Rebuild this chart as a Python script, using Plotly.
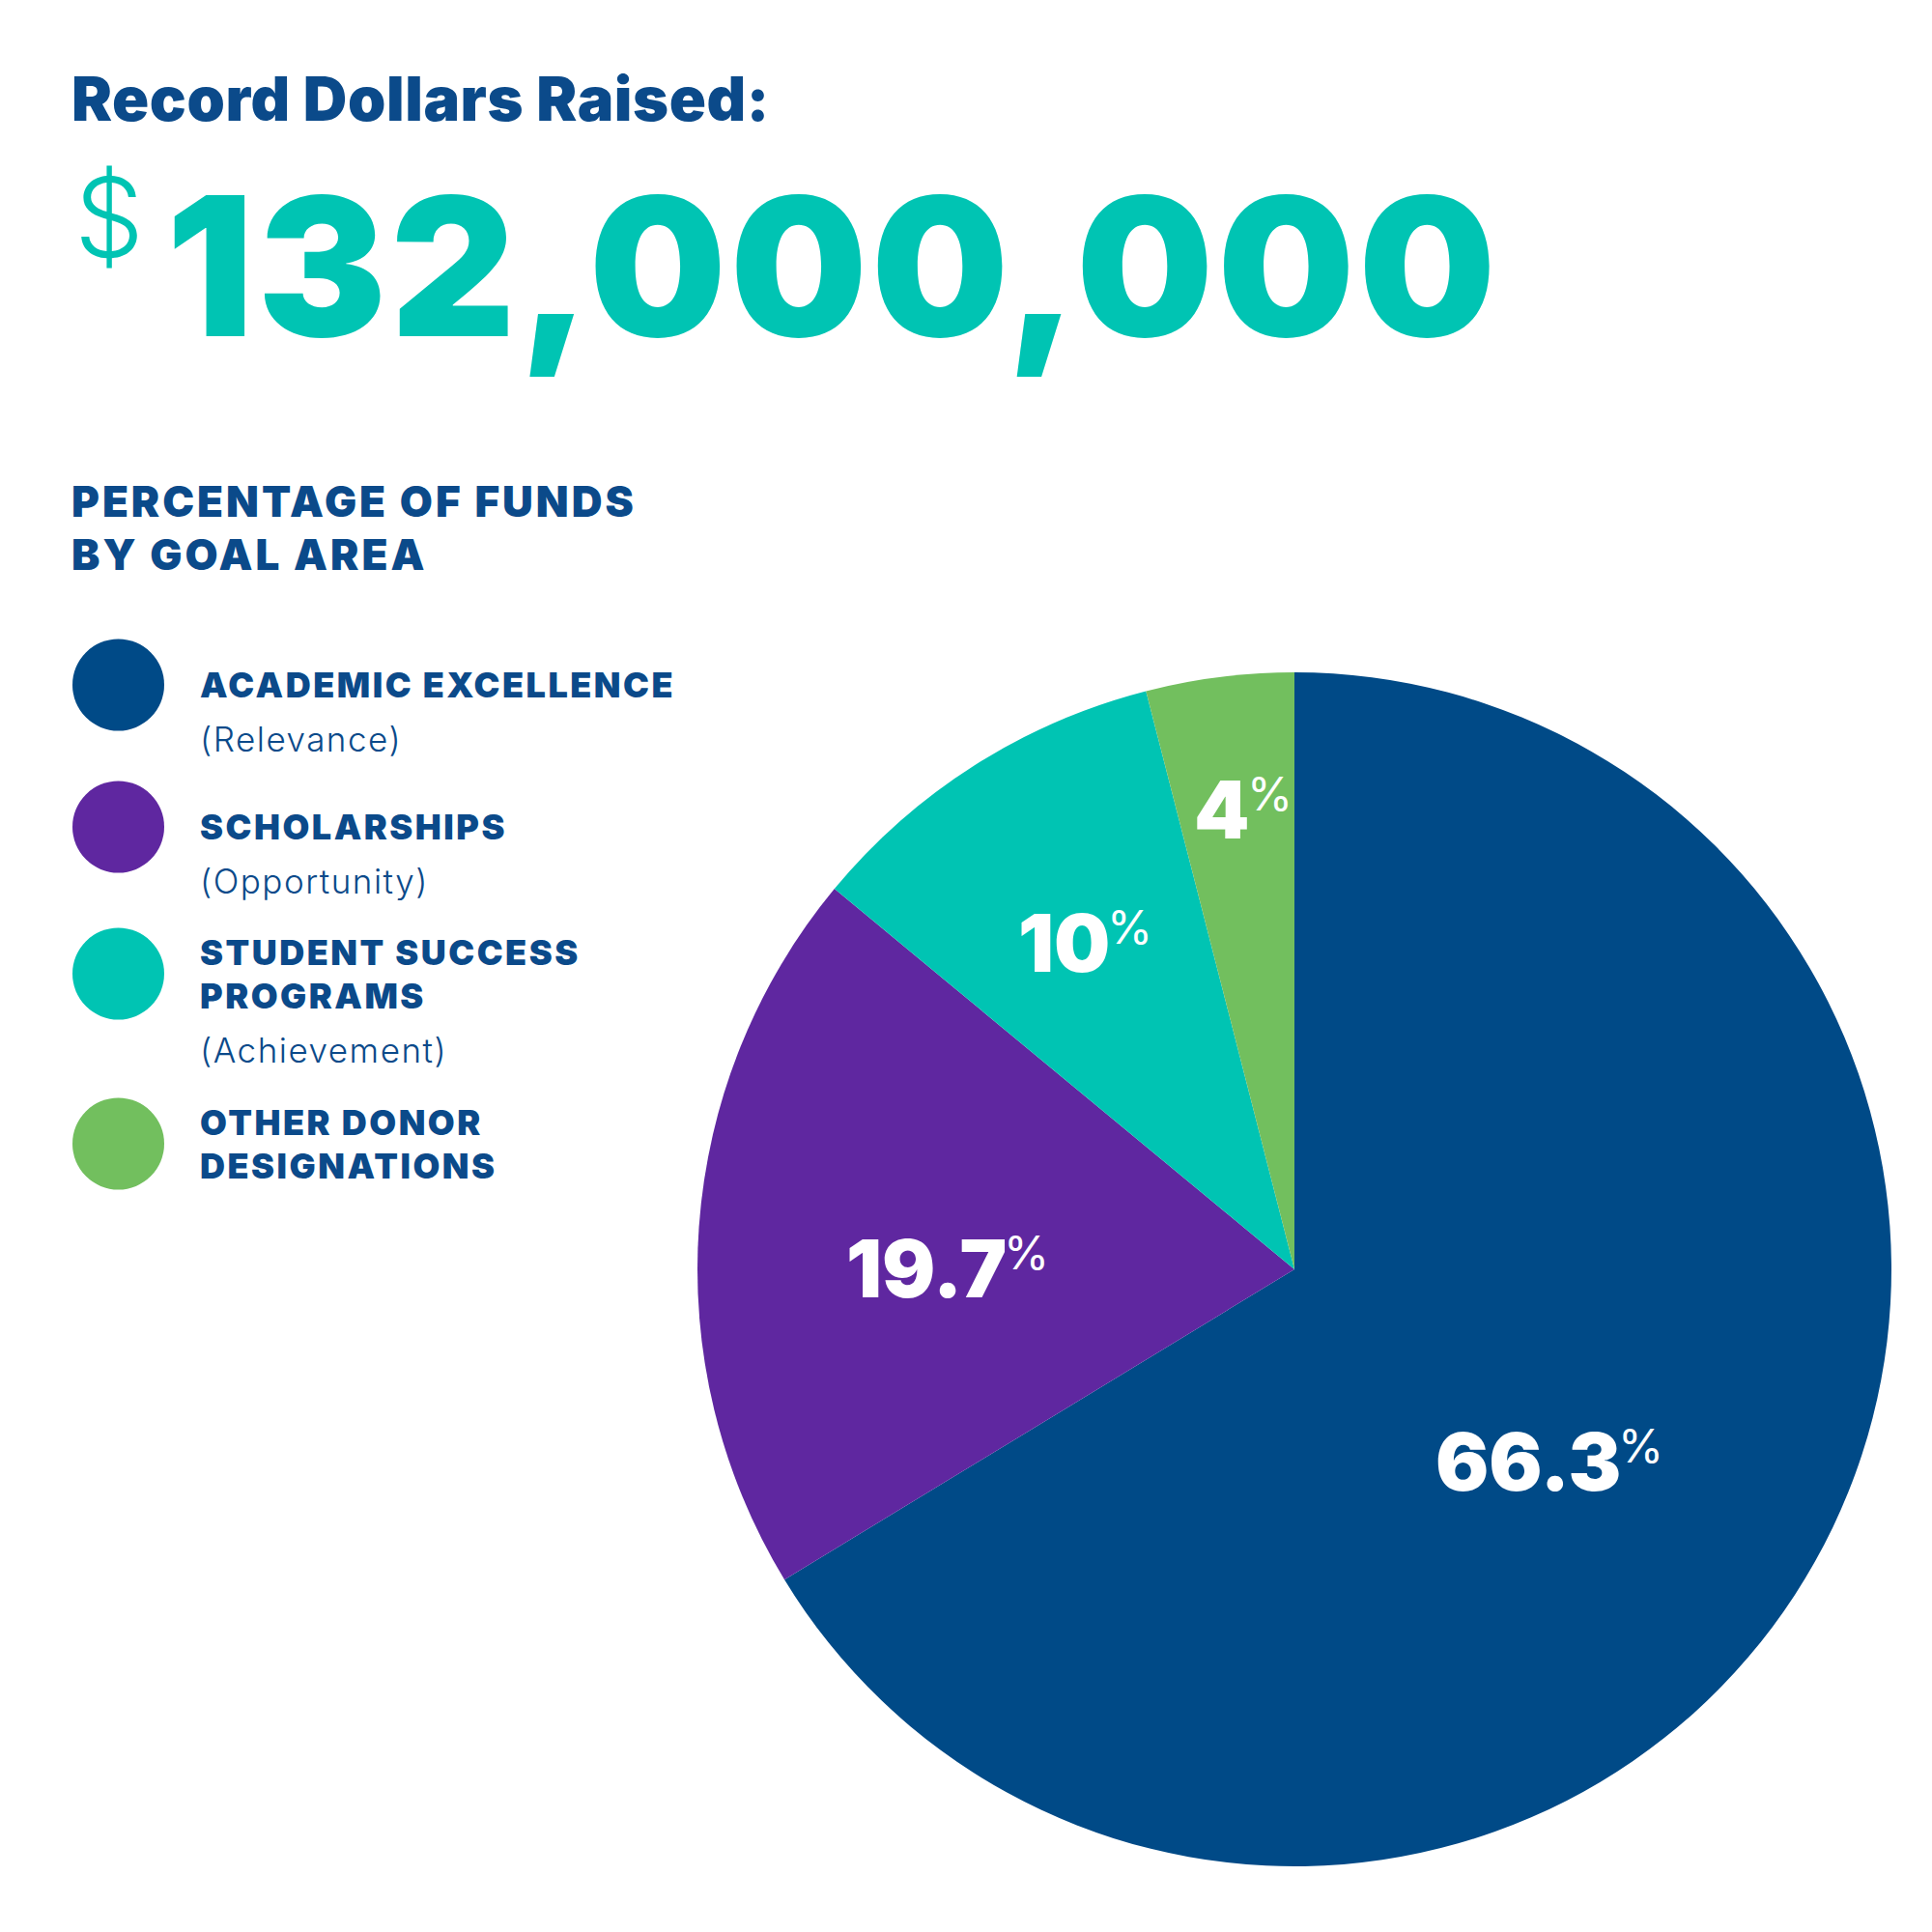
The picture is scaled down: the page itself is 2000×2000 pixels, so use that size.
import math
import plotly.graph_objects as go

# ---- data ----
categories = ["ACADEMIC EXCELLENCE", "SCHOLARSHIPS", "STUDENT SUCCESS PROGRAMS", "OTHER DONOR DESIGNATIONS"]
legend_titles = [["ACADEMIC EXCELLENCE"], ["SCHOLARSHIPS"], ["STUDENT SUCCESS", "PROGRAMS"], ["OTHER DONOR", "DESIGNATIONS"]]
legend_subtitles = ["(Relevance)", "(Opportunity)", "(Achievement)", ""]
percentages = [66.3, 19.7, 10, 4]
total_raised = "132,000,000"

# ---- style ----
colors = ["#004A87", "#5F27A0", "#00C4B3", "#72BF5E"]
navy = "#0B4A8A"
teal = "#00C4B3"
W = H = 2000
OFF = 8  # page body margin compensation
FONT = "Inter, Lato, sans-serif"

pie_cx, pie_cy, pie_r = 1340 - OFF, 1314 - OFF, 618
label_rfrac = [0.646, 0.473, 0.618, 0.768]   # radial placement of slice labels
label_dtheta = [1.2, -4.7, 3.4, 2.4]         # angular nudge from slice bisector (deg)


def spaced(text, px):
    return f"<span style='letter-spacing:{px}px'>{text}</span>"


fig = go.Figure()

fig.add_trace(go.Pie(
    labels=categories,
    values=percentages,
    textinfo="none",
    marker=dict(colors=colors, line=dict(width=0)),
    sort=False,
    direction="clockwise",
    rotation=0,
    hoverinfo="label+percent",
    showlegend=False,
    domain=dict(x=[(pie_cx - pie_r) / W, (pie_cx + pie_r) / W],
                y=[(H - pie_cy - pie_r) / H, (H - pie_cy + pie_r) / H]),
))

# legend markers drawn as a scatter trace on a hidden pixel-space axis
legend_y = [709, 856, 1008, 1184]
fig.add_trace(go.Scatter(
    x=[122.5] * len(categories), y=legend_y, mode="markers",
    marker=dict(size=95, color=colors, line=dict(width=0)),
    hoverinfo="text", hovertext=categories, showlegend=False,
))

ann = []
def add_text(x, y, text, size, color=navy, weight=900, anchor="left", xshift=0, yshift=0):
    ann.append(dict(x=x, y=y, xref="x", yref="y", text=text, showarrow=False,
                    xanchor=anchor, yanchor="middle", xshift=xshift, yshift=yshift,
                    font=dict(family=FONT, size=size, color=color, weight=weight)))

add_text(72, 102, spaced("Record Dollars Raised:", 0.6), 63)
add_text(113, 224, "$", 114, color=teal, weight=300, anchor="center")
add_text(170, 275, spaced(total_raised, 4), 200, color=teal)
add_text(72, 519, spaced("PERCENTAGE OF FUNDS", 3), 44)
add_text(72, 574, spaced("BY GOAL AREA", 3), 44)

title_gap = 45
sub_gap = 56
for i, (lines, sub) in enumerate(zip(legend_titles, legend_subtitles)):
    y0 = legend_y[i] - (len(lines) - 1) * title_gap / 2
    for j, ln in enumerate(lines):
        add_text(205, y0 + j * title_gap, spaced(ln, 2.5), 36)
    if sub:
        add_text(205, y0 + (len(lines) - 1) * title_gap + sub_gap, spaced(sub, 1.5), 35, weight=300)

# slice value labels, placed from the cumulative data around the pie
total = sum(percentages)
cum = 0
for i, v in enumerate(percentages):
    mid = (cum + v / 2) / total * 360 + label_dtheta[i]
    cum += v
    rr = label_rfrac[i] * pie_r
    lx = pie_cx + rr * math.sin(math.radians(mid))
    ly = pie_cy - rr * math.cos(math.radians(mid))
    add_text(lx, ly, f"{v:g}", 82, color="white", anchor="right", xshift=4, yshift=-5)
    add_text(lx, ly, "%", 48, color="white", weight=400, anchor="left", xshift=-3, yshift=12)

fig.update_layout(
    width=W, height=H,
    margin=dict(l=0, r=0, t=0, b=0),
    paper_bgcolor="white", plot_bgcolor="rgba(0,0,0,0)",
    xaxis=dict(range=[OFF, W + OFF], visible=False, fixedrange=True),
    yaxis=dict(range=[H + OFF, OFF], visible=False, fixedrange=True),
    annotations=ann,
)

fig.write_html("out.html")
